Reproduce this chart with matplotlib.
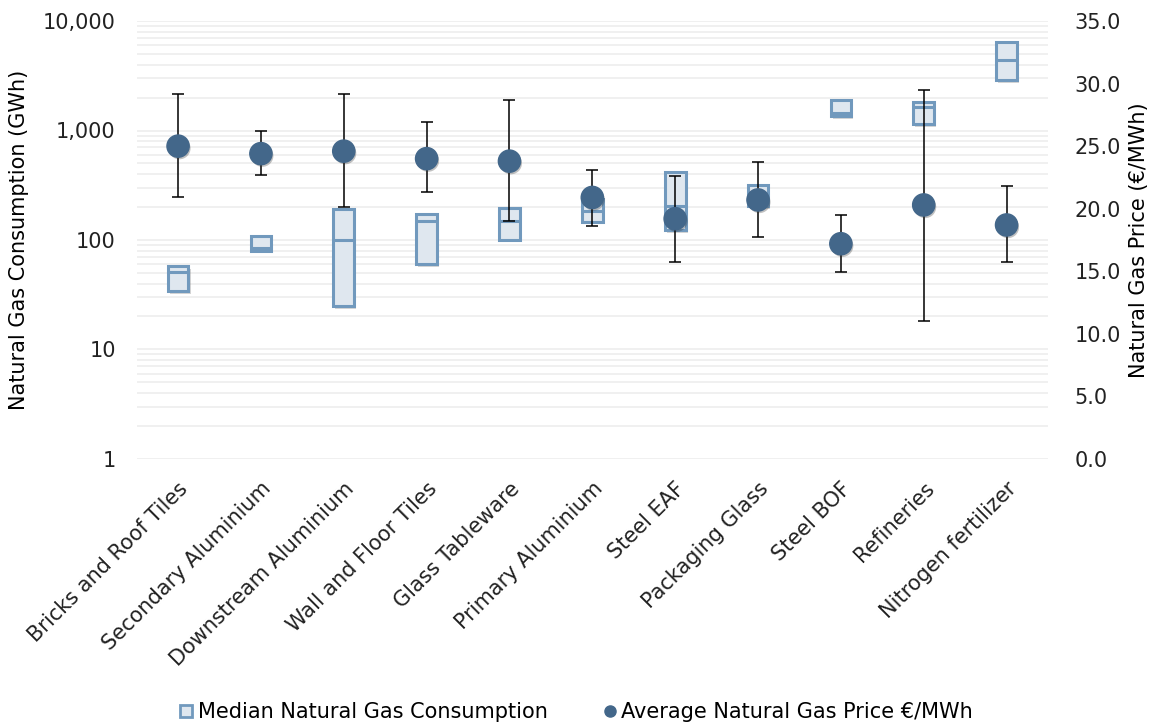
import matplotlib.pyplot as plt
import matplotlib.patheffects as pe
from matplotlib.lines import Line2D
from matplotlib.ticker import FuncFormatter, LogLocator, NullFormatter
import numpy as np

# data
categories = ['Bricks and Roof Tiles', 'Secondary Aluminium', 'Downstream Aluminium',
              'Wall and Floor Tiles', 'Glass Tableware', 'Primary Aluminium', 'Steel EAF',
              'Packaging Glass', 'Steel BOF', 'Refineries', 'Nitrogen fertilizer']
cons_low = [34, 80, 25, 60, 101, 147, 123, 205, 1350, 1150, 2900]
cons_median = [51, 85, 99, 150, 150, 185, 205, 265, 1450, 1630, 4400]
cons_high = [58, 108, 190, 172, 196, 236, 420, 320, 1900, 1810, 6400]
price_avg = [25.0, 24.4, 24.6, 24.0, 23.8, 20.9, 19.2, 20.7, 17.2, 20.3, 18.7]
price_low = [20.9, 22.7, 20.1, 21.3, 19.0, 18.6, 15.7, 17.7, 14.95, 11.05, 15.7]
price_high = [29.2, 26.2, 29.15, 26.9, 28.7, 23.1, 22.65, 23.7, 19.5, 29.5, 21.8]

box_edge = '#7199bd'
box_face = '#dfe7ef'
dot_color = '#43678a'

plt.rcParams['font.family'] = ['DejaVu Sans']
plt.rcParams['font.size'] = 15

fig = plt.figure(figsize=(11.58, 7.25), dpi=100)
ax = fig.add_axes([0.118, 0.367, 0.787, 0.604])
x = np.arange(len(categories))

shadow = [pe.SimplePatchShadow(offset=(1.5, -2), alpha=0.22, shadow_rgbFace='#444444'), pe.Normal()]

low = np.array(cons_low)
high = np.array(cons_high)
ax.bar(x, high - low, bottom=low, width=0.25, color=box_face, edgecolor=box_edge,
       linewidth=2.2, zorder=3, path_effects=shadow)
ax.hlines(cons_median, x - 0.125, x + 0.125, color=box_edge, linewidth=2.2, zorder=4)

ax.set_yscale('log')
ax.set_ylim(1, 10000)
ax.set_xlim(-0.5, len(categories) - 0.5)
ax.yaxis.set_major_locator(LogLocator(base=10))
ax.yaxis.set_minor_locator(LogLocator(base=10, subs=np.arange(2, 10)))
ax.yaxis.set_major_formatter(FuncFormatter(lambda v, p: '{:,.0f}'.format(v)))
ax.yaxis.set_minor_formatter(NullFormatter())
ax.grid(True, which='both', axis='y', color='#efefef', linewidth=1.3, zorder=0)
ax.set_axisbelow(True)
for s in ax.spines.values():
    s.set_visible(False)
ax.tick_params(axis='both', which='both', length=0)
ax.tick_params(axis='y', pad=15, colors='#222222')
ax.tick_params(axis='x', pad=14, colors='#222222')
ax.set_xticks(x)
ax.set_xticklabels(categories, rotation=45, ha='right', rotation_mode='anchor')
ax.set_ylabel('Natural Gas Consumption (GWh)', labelpad=10)

ax2 = ax.twinx()
avg = np.array(price_avg)
yerr = [avg - np.array(price_low), np.array(price_high) - avg]
ax2.errorbar(x, avg, yerr=yerr, fmt='none', ecolor='black', elinewidth=1.1,
             capsize=4.3, capthick=1.1, zorder=5)
ax2.plot(x, avg, 'o', markersize=16, color=dot_color, zorder=6,
         path_effects=[pe.SimplePatchShadow(offset=(1, -1.5), alpha=0.3, shadow_rgbFace='#333333'),
                       pe.Normal()])
ax2.set_ylim(0, 35)
ax2.set_yticks(np.arange(0, 36, 5))
ax2.yaxis.set_major_formatter(FuncFormatter(lambda v, p: '{:.1f}'.format(v)))
for s in ax2.spines.values():
    s.set_visible(False)
ax2.tick_params(axis='y', length=0, pad=19, colors='#222222')
ax2.set_ylabel('Natural Gas Price (€/MWh)', labelpad=6)

handles = [
    Line2D([], [], linestyle='none', marker='s', markersize=9, markerfacecolor=box_face,
           markeredgecolor=box_edge, markeredgewidth=2),
    Line2D([], [], linestyle='none', marker='o', markersize=8, color=dot_color),
]
fig.legend(handles, ['Median Natural Gas Consumption', 'Average Natural Gas Price €/MWh'],
           loc='lower center', bbox_to_anchor=(0.497, -0.022), ncol=2, frameon=False,
           handletextpad=0.15, columnspacing=2.6, handlelength=0.8)

fig.savefig('out.png', dpi=100)
